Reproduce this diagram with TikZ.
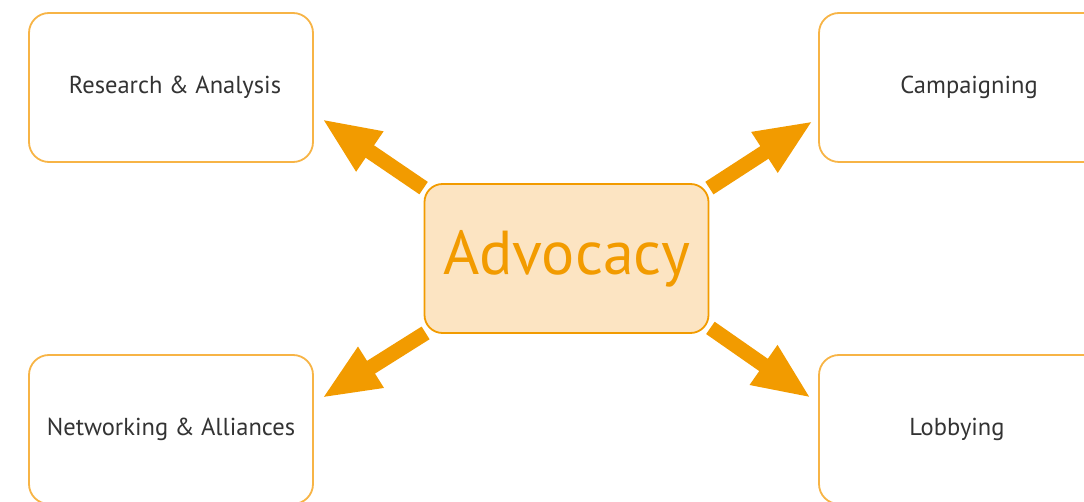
\documentclass[tikz,border=0pt]{standalone}
\usepackage{fontspec}
\setmainfont{PT Sans}
\usepackage{tikz}
\usetikzlibrary{positioning,arrows.meta}
\definecolor{advOrange}{HTML}{F29B00}
\definecolor{advLine}{HTML}{F7B446}
\definecolor{advFill}{HTML}{FCE4C2}
\definecolor{advText}{HTML}{333333}
\tikzstyle{fatArrow}=[-{Triangle[length=58pt,width=44pt]}, line width=15pt, advOrange]
\tikzstyle {topic_box} = [rectangle, rounded corners=20pt, text centered, draw=advLine, fill=white, line width=1.8pt, minimum width=284pt, minimum height=149pt, text=advText, font=\fontsize{24.5}{28}\selectfont]
\tikzstyle {core_box} = [rectangle, rounded corners=18pt, text centered, draw=advOrange, fill=advFill, line width=1.8pt, minimum width=284pt, minimum height=149pt, text=advOrange, font=\fontsize{62}{66}\selectfont]

\begin{document}
\begin{tikzpicture}[x=1pt,y=1pt]
        \clip (0,0) rectangle (1084,-502);
        \useasboundingbox (0,0) rectangle (1084,-502);
        \node [style=core_box] (Advocacy) at (566.5, -258.5) {Advocacy};
        \node [style=topic_box] (Research) at (171, -87.5) {\hspace{8pt}Research \& Analysis};
        \node [style=topic_box] (Campaign) at (961, -87.5) {\hspace{16pt}\raisebox{3pt}{Campaigning}};
        \node [style=topic_box] (Network) at (171, -429.5) {Networking \& Alliances};
        \node [style=topic_box] (Lobby) at (961, -429.5) {\hspace{-8pt}Lobbying};

        %Up
        \draw [style={fatArrow}] ([yshift=-5pt]Advocacy.north west) to ([xshift=8pt,yshift=44pt]Research.south east);
        \draw [style={fatArrow}] ([yshift=-5pt]Advocacy.north east) to ([xshift=-5pt,yshift=42pt]Campaign.south west);

        %Down
        \draw [style={fatArrow}] ([xshift=2pt,yshift=1pt]Advocacy.south west) to ([xshift=8pt,yshift=-44pt]Network.north west -| Network.east);
        \draw [style={fatArrow}] ([xshift=1pt,yshift=6pt]Advocacy.south east) to ([xshift=-7pt,yshift=-44pt]Lobby.north west);
    \end{tikzpicture}
\end{document}
